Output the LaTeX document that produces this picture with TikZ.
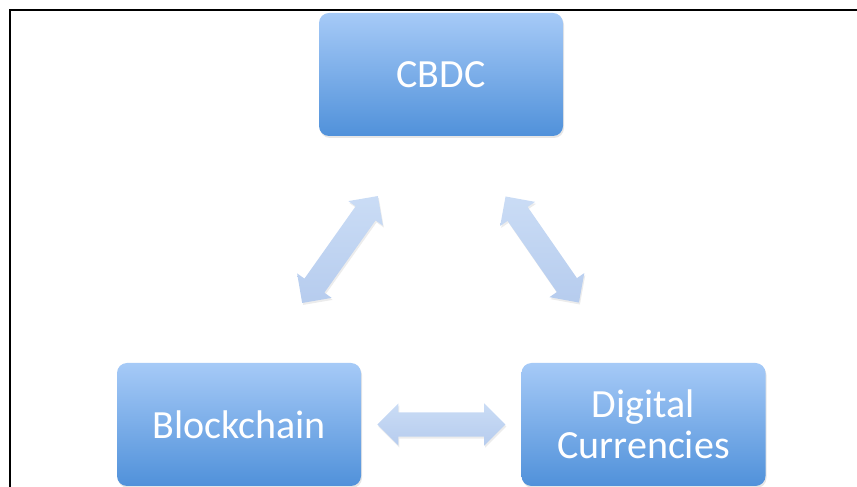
\documentclass[tikz,border=0pt]{standalone}
\usepackage{fontspec}
\setmainfont{Carlito}
\usetikzlibrary{calc,shapes.arrows,shadows}
\definecolor{boxtop}{RGB}{166,202,247}
\definecolor{boxbottom}{RGB}{80,145,218}
\definecolor{linktop}{RGB}{202,220,245}
\definecolor{linkbottom}{RGB}{182,204,238}
\tikzset{
    block/.style={
	anchor=center,
	rectangle,
	rounded corners=10pt,
	draw=none,
	top color=boxtop,
	bottom color=boxbottom,
	drop shadow={shadow xshift=1pt,shadow yshift=-2pt,opacity=0.2},
	minimum width=244pt,
	minimum height=123pt,
	inner sep=0pt,
	text=white,
	align=center,
	font=\fontsize{40}{41}\selectfont
    },
    link/.style={
	anchor=center,
	shape=double arrow,
	double arrow head extend=9pt,
	double arrow tip angle=90,
	draw=none,
	top color=linktop,
	bottom color=linkbottom,
	drop shadow={shadow xshift=1pt,shadow yshift=-2pt,opacity=0.15},
	minimum width=42pt,
	inner xsep=0pt,
	inner ysep=12pt
    },
}

\begin{document}
\begin{tikzpicture}[x=1pt,y=1pt]

    \useasboundingbox (0,0) rectangle (857,487);
    \draw[line width=1.8pt] (857,477) -| (10,0);

    \node[block] (CBDC) at (441,412.5) {CBDC};
    \node[block] (CHAIN) at (239,62.5) {Blockchain};
    \node[block] (DIGITAL) at (643.5,62.5) {Digital\\Currencies};

    \node[link, minimum height=131pt, rotate=54.7] (CHAIN-CBDC)
	at ($(CHAIN.north east)!0.5!(CBDC.south west)$) {};
    \node[link, minimum height=129pt, rotate=-55.3] (CBDC-DIGITAL)
	at ($(CBDC.south east)!0.5!(DIGITAL.north west)$) {};
    \node[link, minimum height=128pt] (CHAIN-DIGITAL)
	at ($(CHAIN.east)!0.5!(DIGITAL.west)$) {};
\end{tikzpicture}
\end{document}
